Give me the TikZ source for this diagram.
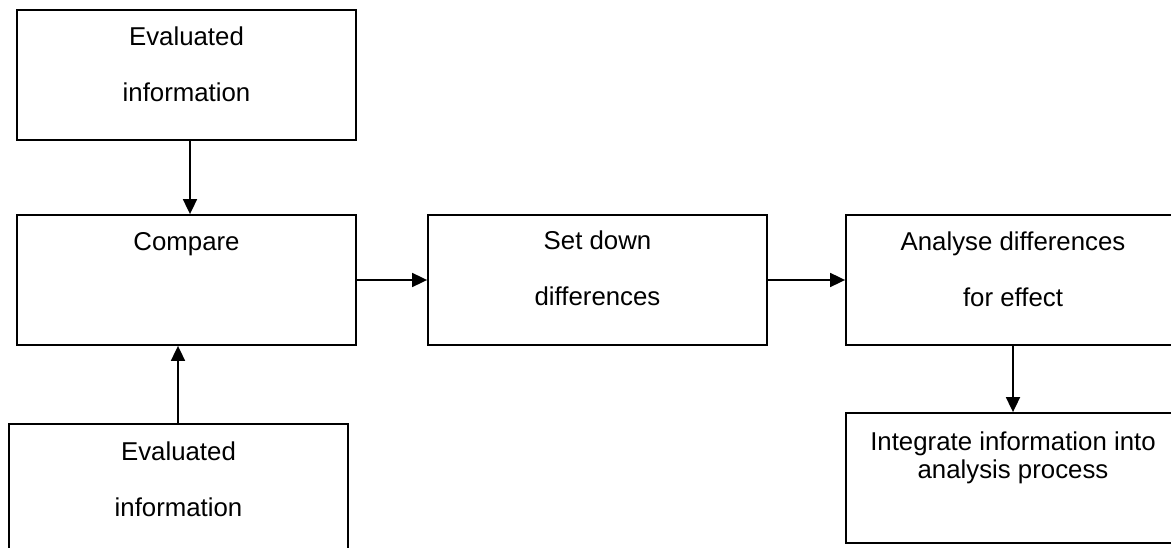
\documentclass[tikz,border=0pt]{standalone}
\usepackage{fontspec}
\setmainfont{Liberation Sans}
\usetikzlibrary{arrows.meta,positioning}
\begin{document}
\begin{tikzpicture}[x=1pt,y=-1pt,
            stage/.style={rectangle,draw,line width=1.8pt,
                    minimum width=339pt,minimum height=130pt,inner sep=0pt},
            wide/.style={stage,minimum width=334pt},
            stagetext/.style={anchor=north,inner sep=0pt,align=center,
                    font=\fontsize{25.8}{56}\selectfont},
            flow/.style={line width=1.8pt,-{Triangle[length=15pt,width=14pt]}},
        ]
        \useasboundingbox (0,0) rectangle (1171,548);
        \clip (0,0) rectangle (1171,548);

        % Evaluated information, above and below
        \node[stage] (evaltop) at (186.5,75) {};
        \node[stagetext] at ([yshift=-18pt]evaltop.north) {Evaluated\\information};

        \node[stage] (evalbottom) at (178.5,489) {};
        \node[stagetext] at ([yshift=-19pt]evalbottom.north) {Evaluated\\information};

        % Main row
        \node[stage] (compare) at (186.5,280) {};
        \node[stagetext] at ([yshift=-18pt]compare.north) {Compare};

        \node[stage] (setdown) at (597.5,280) {};
        \node[stagetext] at ([yshift=-17pt]setdown.north) {Set down\\differences};

        \node[wide] (analyse) at (1013,280) {};
        \node[stagetext] at ([yshift=-18pt]analyse.north) {Analyse differences\\for effect};

        % Last step
        \node[wide] (integrate) at (1013,478) {};
        \node[stagetext,font=\fontsize{25.8}{28}\selectfont]
            at ([yshift=-20pt]integrate.north) {Integrate information into\\analysis process};

        % Arrows
        \draw[flow] ([xshift=3.5pt]evaltop.south) -- ([xshift=3.5pt]evaltop.south |- compare.north);
        \draw[flow] ([xshift=-0.5pt]evalbottom.north) -- ([xshift=-0.5pt]evalbottom.north |- compare.south);
        \draw[flow] (compare.east) -- (setdown.west);
        \draw[flow] (setdown.east) -- (analyse.west);
        \draw[flow] (analyse.south) -- (integrate.north);

    \end{tikzpicture}
\end{document}
